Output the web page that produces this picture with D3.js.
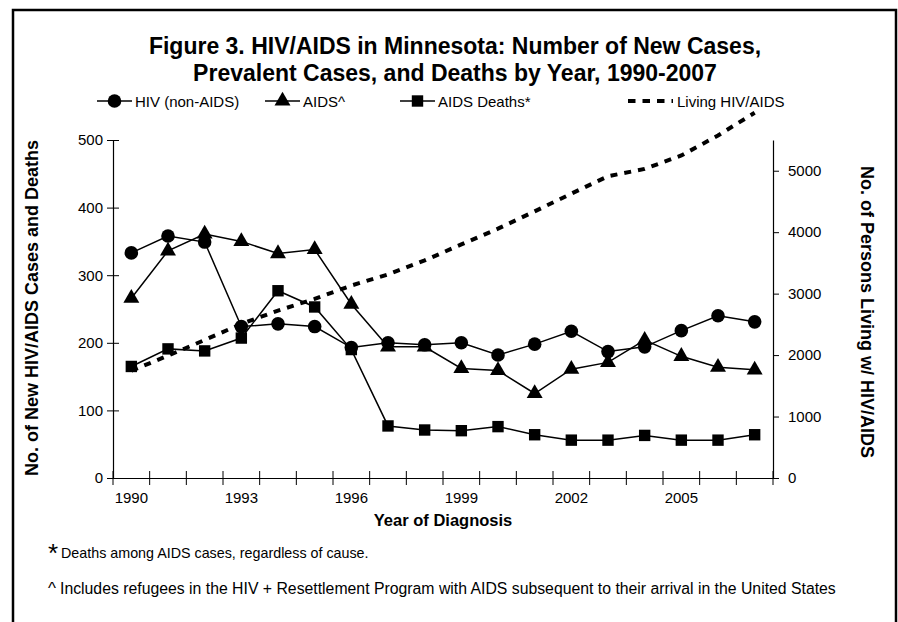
<!DOCTYPE html>
<html>
<head>
<meta charset="utf-8">
<script src="https://cdn.jsdelivr.net/npm/d3@7"></script>
<style>
body { margin: 0; background: #fff; }
text { font-family: "Liberation Sans", Arial, sans-serif; fill: #000; }
</style>
</head>
<body>
<div class="chart"></div>
<script>
const years = [1990,1991,1992,1993,1994,1995,1996,1997,1998,1999,2000,2001,2002,2003,2004,2005,2006,2007];
const hivCases   = [333,358,349,224,228,224,193,200,197,200,182,198,217,187,194,218,240,231];
const aidsCases  = [266,336,361,350,332,338,257,194,194,162,159,125,161,171,204,180,164,160];
const aidsDeaths = [165,191,188,207,277,253,190,77,71,70,76,64,56,56,63,56,56,64];
const livingCases = [1745,1990,2246,2507,2724,2915,3132,3312,3540,3801,4057,4339,4627,4910,5030,5248,5574,5943];
const leftTicks = [0,100,200,300,400,500];
const rightTicks = [0,1000,2000,3000,4000,5000];
const yearLabels = [1990,1993,1996,1999,2002,2005];

const width = 898;
const height = 622;
const font = '"Liberation Sans", Arial, sans-serif';
const svg = d3.select('.chart')
	.append('svg')
	.attr('width', width)
	.attr('height', height);

// outer frame
svg.append('rect')
	.attr('x', 13)
	.attr('y', 10)
	.attr('width', 883)
	.attr('height', 640)
	.attr('fill', 'none')
	.attr('stroke', '#000')
	.attr('stroke-width', 2.5);

// title
svg.append('text')
	.attr('x', 455)
	.attr('y', 54)
	.attr('text-anchor', 'middle')
	.attr('font-size', '23px')
	.attr('font-weight', 'bold')
	.text('Figure 3. HIV/AIDS in Minnesota: Number of New Cases,');
svg.append('text')
	.attr('x', 455)
	.attr('y', 81)
	.attr('text-anchor', 'middle')
	.attr('font-size', '23px')
	.attr('font-weight', 'bold')
	.text('Prevalent Cases, and Deaths by Year, 1990-2007');

const x = d3.scaleBand().domain(years).range([113, 773]);
const yLeft = d3.scaleLinear().domain([0, 500]).range([478, 140]);
const yRight = d3.scaleLinear().domain([0, 5500]).range([478, 140]);
const cx = d => x(d) + x.bandwidth() / 2;

// left axis
const leftAxis = svg.append('g')
	.attr('transform', 'translate(113,0)')
	.call(d3.axisLeft(yLeft).tickValues(leftTicks).tickSize(6).tickSizeOuter(0).tickPadding(4));
leftAxis.selectAll('.tick line').attr('x1', 6);
leftAxis.selectAll('text').attr('font-size', '15px').attr('font-family', font);

// right axis
const rightAxis = svg.append('g')
	.attr('transform', 'translate(773,0)')
	.call(d3.axisRight(yRight).tickValues(rightTicks).tickFormat(d3.format('d')).tickSize(6).tickSizeOuter(0).tickPadding(9));
rightAxis.selectAll('text').attr('font-size', '15px').attr('font-family', font);

// bottom axis: labels at band centres, ticks at band edges
const bottomAxis = svg.append('g')
	.attr('transform', 'translate(0,478)')
	.call(d3.axisBottom(x).tickValues(yearLabels).tickSize(0).tickSizeOuter(0).tickPadding(14));
bottomAxis.selectAll('text').attr('font-size', '15px').attr('font-family', font);
bottomAxis.selectAll('.edge')
	.data(years.map(d => x(d)).concat([x.range()[1]]))
	.enter()
	.append('line')
	.attr('class', 'edge')
	.attr('x1', d => d)
	.attr('x2', d => d)
	.attr('y1', -7)
	.attr('y2', 7)
	.attr('stroke', '#000');
svg.selectAll('.domain').attr('stroke', '#000').attr('stroke-width', 1.2);

// axis titles
svg.append('text')
	.attr('transform', 'translate(38,308) rotate(-90)')
	.attr('text-anchor', 'middle')
	.attr('font-size', '18px')
	.attr('font-weight', 'bold')
	.text('No. of New HIV/AIDS Cases and Deaths');
svg.append('text')
	.attr('transform', 'translate(861,312) rotate(90)')
	.attr('text-anchor', 'middle')
	.attr('font-size', '18px')
	.attr('font-weight', 'bold')
	.text('No. of Persons Living w/ HIV/AIDS');
svg.append('text')
	.attr('x', 443)
	.attr('y', 526)
	.attr('text-anchor', 'middle')
	.attr('font-size', '16.5px')
	.attr('font-weight', 'bold')
	.text('Year of Diagnosis');

// living line (secondary axis)
svg.append('path')
	.datum(years)
	.attr('d', d3.line().x(d => cx(d)).y((d, i) => yRight(livingCases[i])))
	.attr('fill', 'none')
	.attr('stroke', '#000')
	.attr('stroke-width', 4)
	.attr('stroke-dasharray', '7,7');

const series = [
	{ name: 'aids', values: aidsCases, symbol: d3.symbolTriangle, size: 110 },
	{ name: 'hiv', values: hivCases, symbol: d3.symbolCircle, size: 145 },
	{ name: 'deaths', values: aidsDeaths, symbol: d3.symbolSquare, size: 130 }
];

series.forEach(s => {
	svg.append('path')
		.datum(years)
		.attr('d', d3.line().x(d => cx(d)).y((d, i) => yLeft(s.values[i])))
		.attr('fill', 'none')
		.attr('stroke', '#000')
		.attr('stroke-width', 1.5);
	svg.selectAll('.m-' + s.name)
		.data(years)
		.enter()
		.append('path')
		.attr('class', 'm-' + s.name)
		.attr('transform', (d, i) => 'translate(' + cx(d) + ',' + yLeft(s.values[i]) + ')')
		.attr('d', d3.symbol().type(s.symbol).size(s.size))
		.attr('fill', '#000');
});

// legend
const legendY = 101;
const legendItems = [
	{ label: 'HIV (non-AIDS)', symbol: d3.symbolCircle, size: 145, x: 97 },
	{ label: 'AIDS^', symbol: d3.symbolTriangle, size: 110, x: 265 },
	{ label: 'AIDS Deaths*', symbol: d3.symbolSquare, size: 130, x: 400 }
];
legendItems.forEach(l => {
	svg.append('line')
		.attr('x1', l.x).attr('x2', l.x + 35)
		.attr('y1', legendY).attr('y2', legendY)
		.attr('stroke', '#000').attr('stroke-width', 1.5);
	svg.append('path')
		.attr('transform', 'translate(' + (l.x + 17.5) + ',' + legendY + ')')
		.attr('d', d3.symbol().type(l.symbol).size(l.size))
		.attr('fill', '#000');
	svg.append('text')
		.attr('x', l.x + 38)
		.attr('y', legendY + 5.5)
		.attr('font-size', '15px')
		.text(l.label);
});
svg.append('line')
	.attr('x1', 628).attr('x2', 673)
	.attr('y1', legendY).attr('y2', legendY)
	.attr('stroke', '#000').attr('stroke-width', 4)
	.attr('stroke-dasharray', '7.5,7');
svg.append('text')
	.attr('x', 677)
	.attr('y', legendY + 5.5)
	.attr('font-size', '15px')
	.text('Living HIV/AIDS');

// footnotes
svg.append('text').attr('x', 48).attr('y', 562).attr('font-size', '26px').text('*');
svg.append('text').attr('x', 61).attr('y', 558).attr('font-size', '14.3px')
	.text('Deaths among AIDS cases, regardless of cause.');
svg.append('text').attr('x', 48).attr('y', 594).attr('font-size', '17px').text('^');
svg.append('text').attr('x', 60).attr('y', 594).attr('font-size', '15.8px')
	.text('Includes refugees in the HIV + Resettlement Program with AIDS subsequent to their arrival in the United States');
</script>
</body>
</html>
